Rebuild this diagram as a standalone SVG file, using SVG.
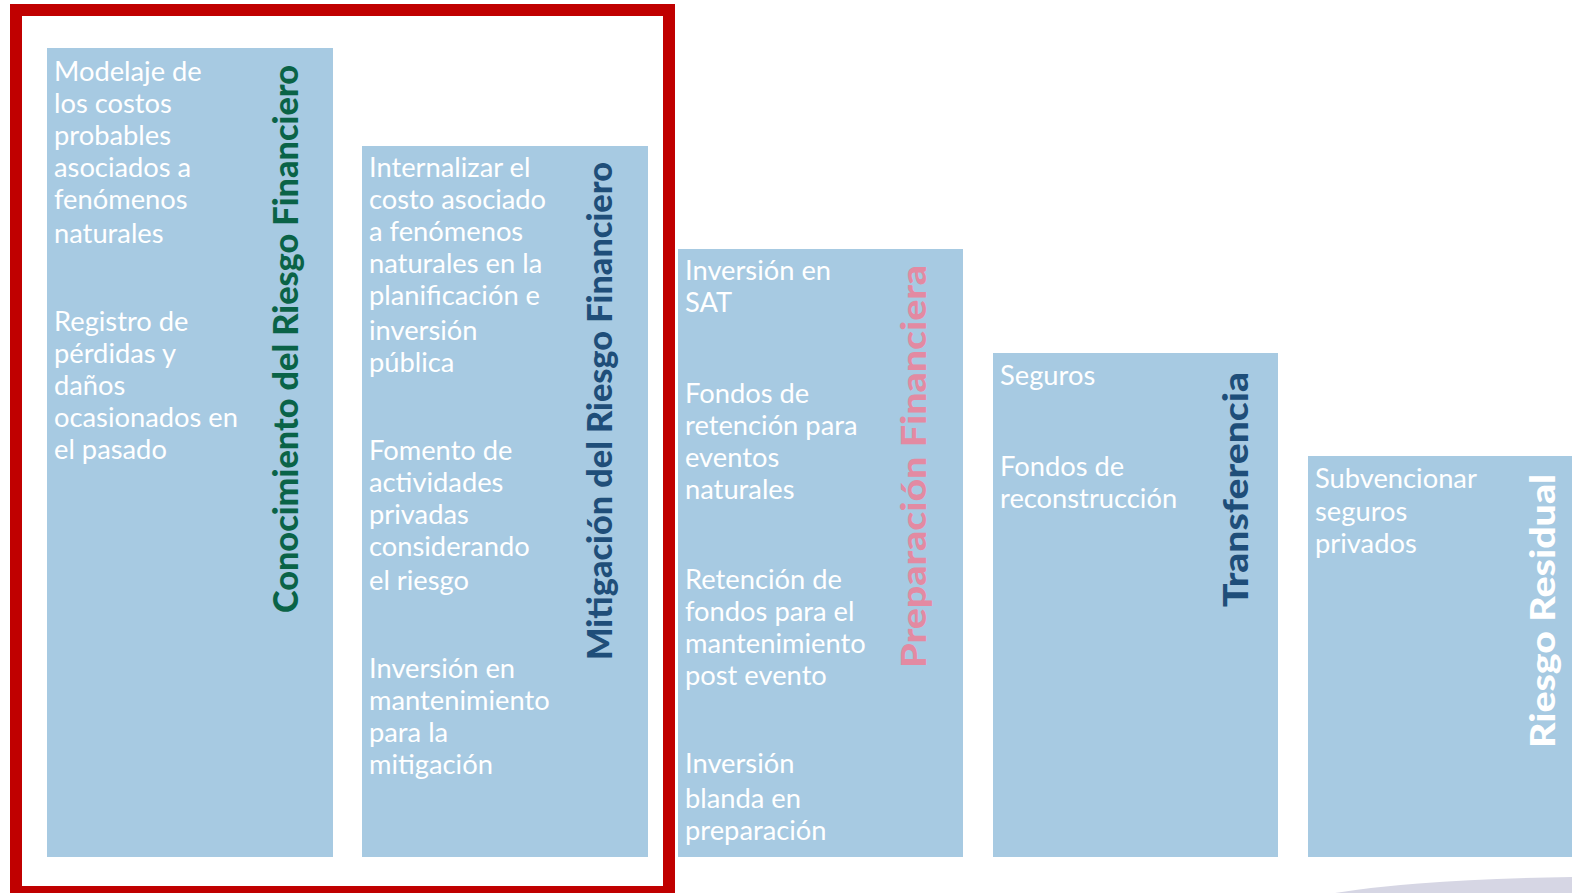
<svg xmlns="http://www.w3.org/2000/svg" width="1572" height="893" viewBox="0 0 1572 893">
<style>
.box{fill:#A7CAE2;}
.body{font-family:Lato,"Liberation Sans",sans-serif;font-size:27.3px;fill:#FFFFFF;}
.title{font-family:Lato,"Liberation Sans",sans-serif;font-size:35px;font-weight:900;}
</style>
<rect x="0" y="0" width="1572" height="893" fill="#FFFFFF"/>
<path d="M1335,893 Q1420,879 1572,877 L1572,893 Z" fill="#D6D6E4"/>
<g id="node-conocimiento">
<rect class="box" x="47" y="48" width="286" height="809"/>
<text class="body"><tspan x="54" y="81">Modelaje de</tspan><tspan x="54" y="113">los costos</tspan><tspan x="54" y="145">probables</tspan><tspan x="54" y="177">asociados a</tspan><tspan x="54" y="209">fenómenos</tspan><tspan x="54" y="243">naturales</tspan><tspan x="54" y="331">Registro de</tspan><tspan x="54" y="363">pérdidas y</tspan><tspan x="54" y="395">daños</tspan><tspan x="54" y="427">ocasionados en</tspan><tspan x="54" y="459">el pasado</tspan></text>
<text class="title" transform="translate(298,613) rotate(-90)" x="0" y="0" fill="#0A6347" textLength="548" lengthAdjust="spacingAndGlyphs">Conocimiento del Riesgo Financiero</text>
</g>
<g id="node-mitigacion">
<rect class="box" x="362" y="146" width="286" height="711"/>
<text class="body"><tspan x="369" y="177">Internalizar el</tspan><tspan x="369" y="209">costo asociado</tspan><tspan x="369" y="241">a fenómenos</tspan><tspan x="369" y="273">naturales en la</tspan><tspan x="369" y="305">planificación e</tspan><tspan x="369" y="340">inversión</tspan><tspan x="369" y="372">pública</tspan><tspan x="369" y="460">Fomento de</tspan><tspan x="369" y="492">actividades</tspan><tspan x="369" y="524">privadas</tspan><tspan x="369" y="556">considerando</tspan><tspan x="369" y="590">el riesgo</tspan><tspan x="369" y="678">Inversión en</tspan><tspan x="369" y="710">mantenimiento</tspan><tspan x="369" y="742">para la</tspan><tspan x="369" y="774">mitigación</tspan></text>
<text class="title" transform="translate(612,660) rotate(-90)" x="0" y="0" fill="#1F4E79" textLength="498" lengthAdjust="spacingAndGlyphs">Mitigación del Riesgo Financiero</text>
</g>
<g id="node-preparacion">
<rect class="box" x="678" y="249" width="285" height="608"/>
<text class="body"><tspan x="685" y="280">Inversión en</tspan><tspan x="685" y="312">SAT</tspan><tspan x="685" y="403">Fondos de</tspan><tspan x="685" y="435">retención para</tspan><tspan x="685" y="467">eventos</tspan><tspan x="685" y="499">naturales</tspan><tspan x="685" y="589">Retención de</tspan><tspan x="685" y="621">fondos para el</tspan><tspan x="685" y="653">mantenimiento</tspan><tspan x="685" y="685">post evento</tspan><tspan x="685" y="773">Inversión</tspan><tspan x="685" y="808">blanda en</tspan><tspan x="685" y="840">preparación</tspan></text>
<text class="title" transform="translate(926,668) rotate(-90)" x="0" y="0" fill="#E38AA2" textLength="403" lengthAdjust="spacingAndGlyphs">Preparación Financiera</text>
</g>
<g id="node-transferencia">
<rect class="box" x="993" y="353" width="285" height="504"/>
<text class="body"><tspan x="1000" y="385">Seguros</tspan><tspan x="1000" y="476">Fondos de</tspan><tspan x="1000" y="508">reconstrucción</tspan></text>
<text class="title" transform="translate(1248,607) rotate(-90)" x="0" y="0" fill="#1F4E79" textLength="235" lengthAdjust="spacingAndGlyphs">Transferencia</text>
</g>
<g id="node-residual">
<rect class="box" x="1308" y="456" width="264" height="401"/>
<text class="body"><tspan x="1315" y="488">Subvencionar</tspan><tspan x="1315" y="521">seguros</tspan><tspan x="1315" y="553">privados</tspan></text>
<text class="title" transform="translate(1555,748) rotate(-90)" x="0" y="0" fill="#FFFFFF" textLength="274" lengthAdjust="spacingAndGlyphs">Riesgo Residual</text>
</g>
<g id="connectors"></g>
<rect id="highlight-frame" x="16" y="10" width="653" height="882" fill="none" stroke="#C00000" stroke-width="12"/>
</svg>
